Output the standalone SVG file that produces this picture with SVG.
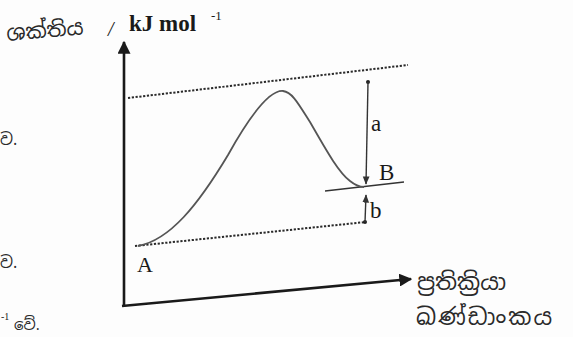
<svg xmlns="http://www.w3.org/2000/svg" width="573" height="337" viewBox="0 0 573 337">
<style>
.ax{stroke:#1a1a1a;stroke-width:2.6;fill:none}
.dot{stroke:#2a2a2a;stroke-width:2;stroke-dasharray:2.2 1.6;fill:none}
.thin{stroke:#333;stroke-width:1.4;fill:none}
.curve{stroke:#555;stroke-width:1.8;fill:none}
.t{font-family:"Liberation Serif","DejaVu Serif",serif;fill:#1a1a1a}
.si{font-family:"Noto Sans Sinhala","Noto Serif Sinhala","Noto Sans","DejaVu Sans",sans-serif;fill:#2a2a2a}
</style>
<defs>
<marker id="ah" viewBox="0 0 10 10" refX="9" refY="5" markerWidth="5" markerHeight="5" orient="auto-start-reverse">
<path d="M0,0L10,5L0,10z" fill="#1a1a1a"/>
</marker>
<marker id="ahs" viewBox="0 0 10 10" refX="9" refY="5" markerWidth="6" markerHeight="6" orient="auto-start-reverse">
<path d="M0,1L10,5L0,9z" fill="#333"/>
</marker>
</defs>
<rect width="573" height="337" fill="#fdfdfd"/>
<g id="axes">
<path class="ax" d="M124,306 L124,42" marker-end="url(#ah)"/>
<path class="ax" d="M122,306 L411,279" marker-end="url(#ah)"/>
</g>
<g id="levels">
<path class="dot" d="M128,98 L408,65"/>
<path class="dot" d="M135,246 L366,222"/>
<path class="thin" d="M325,191 L404,182"/>
</g>
<g id="connectors">
<path class="curve" d="M138,246 C170,240 198,205 228,155 C252,112 270,90 283,91 C292,92 298,103 310,122 C325,148 338,172 350,181 C355,185 359,187 364,187"/>
<circle cx="368" cy="82" r="2" fill="#222"/>
<path class="thin" d="M368,82 L366,184" marker-end="url(#ahs)"/>
<circle cx="365" cy="222" r="2" fill="#222"/>
<path class="thin" d="M365,222 L366,195" marker-end="url(#ahs)"/>
</g>
<g id="labels">
<text class="si" x="7" y="41" font-size="21" transform="rotate(-5 7 41)">ශක්තිය</text>
<text class="t" x="108" y="36" font-size="20" font-style="italic">/</text>
<text class="t" x="129" y="31" font-size="23" font-weight="bold">kJ mol</text>
<text class="t" x="211" y="20" font-size="13">-1</text>
<text class="t" x="371" y="131" font-size="23">a</text>
<text class="t" x="379" y="180" font-size="23">B</text>
<text class="t" x="370" y="218" font-size="23">b</text>
<text class="t" x="137" y="272" font-size="22" font-family="Liberation Sans">A</text>
<text class="si" x="417" y="290" font-size="23">ප්‍රතික්‍රියා</text>
<text class="si" x="416" y="325" font-size="23" letter-spacing="2">ඛණ්ඩාංකය</text>
<text class="si" x="0" y="145" font-size="16">ව.</text>
<text class="si" x="0" y="268" font-size="16">ව.</text>
<text class="t" x="1" y="320" font-size="10">-1</text>
<text class="si" x="14" y="330" font-size="15">වේ.</text>
</g>
</svg>
